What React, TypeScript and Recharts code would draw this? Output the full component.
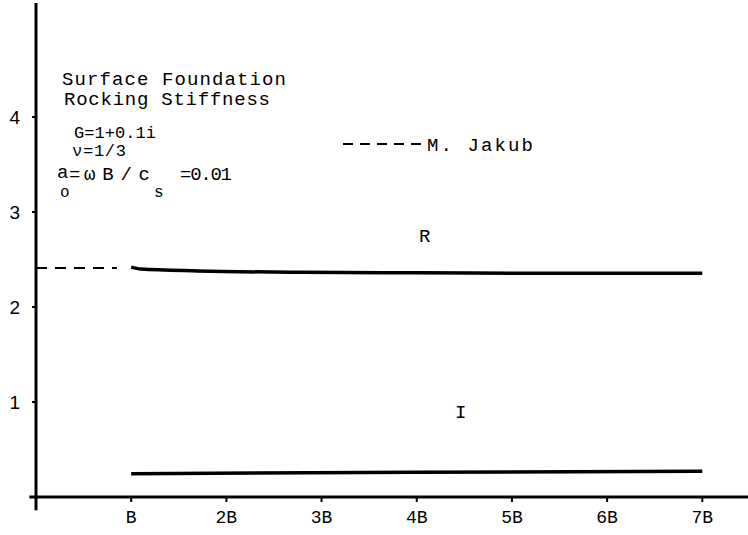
import React from "react";
import { LineChart, Line, XAxis, YAxis, ReferenceLine, Customized } from "recharts";

// ---- data ----
const xTicks = [1, 2, 3, 4, 5, 6, 7];
const xTickLabels = ["B", "2B", "3B", "4B", "5B", "6B", "7B"];
const yTicks = [1, 2, 3, 4];

const realX = [1, 1.1, 1.7, 2.8, 4, 5.5, 7];
const realY = [2.42, 2.4, 2.38, 2.365, 2.36, 2.355, 2.355];

const imagX = [1, 4, 7];
const imagY = [0.245, 0.26, 0.27];

const jakubX = [0, 0.85];
const jakubY = [2.41, 2.41];

const realData = realX.map((x, i) => ({ x, v: realY[i] }));
const imagData = imagX.map((x, i) => ({ x, v: imagY[i] }));
const jakubData = jakubX.map((x, i) => ({ x, v: jakubY[i] }));

const MONO = "'Liberation Mono', 'Courier New', monospace";
const SANS = "'Liberation Sans', Arial, sans-serif";

const Annotations = () => (
  <g fill="#000" fontFamily={MONO}>
    <text x={62} y={85} fontSize={19} textLength={224}>Surface Foundation</text>
    <text x={64} y={105} fontSize={19} textLength={206}>Rocking Stiffness</text>
    <text x={74} y={138} fontSize={17} textLength={82}>G=1+0.1i</text>
    <text x={72} y={156} fontSize={17} textLength={54}>ν=1/3</text>
    <text x={57} y={178} fontSize={19}>a</text>
    <text x={60} y={197} fontSize={16}>o</text>
    <text x={69} y={180} fontSize={19}>=</text>
    <text x={84} y={180} fontSize={19} textLength={66}>ωB/c</text>
    <text x={154} y={197} fontSize={16}>s</text>
    <text x={180} y={180} fontSize={19} textLength={52}>=0.01</text>
    <line x1={343} y1={144} x2={423} y2={144} stroke="#000" strokeWidth={2} strokeDasharray="10 7" />
    <text x={427} y={151} fontSize={19} textLength={106}>M. Jakub</text>
    <text x={419} y={242} fontSize={19}>R</text>
    <text x={455} y={418} fontSize={19}>I</text>
  </g>
);

export default function App() {
  return (
    <div style={{ position: "absolute", left: 0, top: 0, width: 748, height: 535, background: "#fff" }}>
      <LineChart width={748} height={535} margin={{ top: 3, right: 0, bottom: 0, left: 0 }}>
        <XAxis
          type="number"
          dataKey="x"
          domain={[0, 7.48]}
          ticks={xTicks}
          allowDataOverflow
          tickFormatter={(v: number) => xTickLabels[xTicks.indexOf(v)] ?? ""}
          height={38}
          tickSize={5}
          tickMargin={8}
          axisLine={{ stroke: "#000", strokeWidth: 3 }}
          tickLine={{ stroke: "#000", strokeWidth: 2 }}
          tick={{ fill: "#000", fontSize: 18, fontFamily: MONO }}
        />
        <YAxis
          type="number"
          domain={[0, 5.2]}
          ticks={yTicks}
          allowDataOverflow
          width={36}
          tickSize={4}
          tickMargin={12}
          axisLine={{ stroke: "#000", strokeWidth: 3 }}
          tickLine={{ stroke: "#000", strokeWidth: 2 }}
          tick={{ fill: "#000", fontSize: 19, fontFamily: SANS }}
        />
        <ReferenceLine
          segment={[{ x: 0, y: 0 }, { x: 0, y: -0.14 }]}
          ifOverflow="visible"
          stroke="#000"
          strokeWidth={3}
        />
        <ReferenceLine
          segment={[{ x: -0.07, y: 0 }, { x: 0, y: 0 }]}
          ifOverflow="visible"
          stroke="#000"
          strokeWidth={3}
        />
        <Line
          data={jakubData}
          dataKey="v"
          type="linear"
          stroke="#000"
          strokeWidth={2}
          strokeDasharray="11 8"
          dot={false}
          isAnimationActive={false}
        />
        <Line
          data={realData}
          dataKey="v"
          type="monotone"
          stroke="#000"
          strokeWidth={3.5}
          dot={false}
          isAnimationActive={false}
        />
        <Line
          data={imagData}
          dataKey="v"
          type="linear"
          stroke="#000"
          strokeWidth={3.5}
          dot={false}
          isAnimationActive={false}
        />
        <Customized component={Annotations} />
      </LineChart>
    </div>
  );
}
